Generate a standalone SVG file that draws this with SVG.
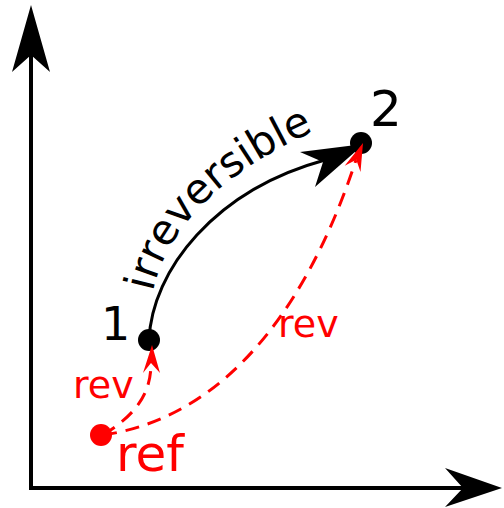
<svg xmlns="http://www.w3.org/2000/svg" width="504" height="508" viewBox="0 0 504 508">
  <style>
    .axis{stroke:#000;stroke-width:4;fill:none}
    .head{fill:#000;stroke:none}
    .rhead{fill:#f00;stroke:none}
    .curve{stroke:#000;stroke-width:3;fill:none}
    .dash{stroke:#f00;stroke-width:3;fill:none;stroke-dasharray:14,9}
    .lbl{font-family:"DejaVu Sans",sans-serif}
    .blk{fill:#000}
    .red{fill:#f00}
  </style>
  <defs>
    <path id="tp" d="M153,292 C166,226 230,160 352,116"/>
  </defs>
  <rect width="504" height="508" fill="#fff"/>
  <g id="axes">
    <path class="axis" d="M31,490 V55"/>
    <path class="head" d="M31,5 L50,72 L31,55 L12,72 Z"/>
    <path class="axis" d="M29,488 H465"/>
    <path class="head" d="M502,488 L445,507 L463,488 L445,468 Z"/>
  </g>
  <g id="connectors">
    <path class="curve" d="M149,340 C152,270 215,190 325,160"/>
    <path class="dash" d="M103,435 C135,415 151,395 151,363"/>
    <path class="dash" d="M103,435 C210,420 300,330 356,160"/>
  </g>
  <g id="node-1">
    <circle cx="149" cy="340" r="11" fill="#000"/>
    <text class="lbl blk" x="101" y="340" font-size="46">1</text>
  </g>
  <g id="node-2">
    <circle cx="361" cy="143" r="11" fill="#000"/>
    <text class="lbl blk" x="370" y="126" font-size="50">2</text>
  </g>
  <g id="node-ref">
    <circle cx="101" cy="435" r="11" fill="#f00"/>
    <text class="lbl red" x="116" y="471" font-size="50">ref</text>
  </g>
  <g id="arrowheads">
    <path class="head" d="M364,144 L315,187 L323,162 L300,152 Z"/>
    <path class="rhead" d="M152,345 L160,373 L151,363 L143,373 Z"/>
    <path class="rhead" d="M363,143 L360.5,172 L356.3,159.7 L344.7,165.8 Z"/>
  </g>
  <g id="labels">
    <text class="lbl blk" font-size="42"><textPath href="#tp">irreversible</textPath></text>
    <text class="lbl red" x="73" y="398" font-size="38">rev</text>
    <text class="lbl red" x="278" y="337" font-size="38">rev</text>
  </g>
</svg>
